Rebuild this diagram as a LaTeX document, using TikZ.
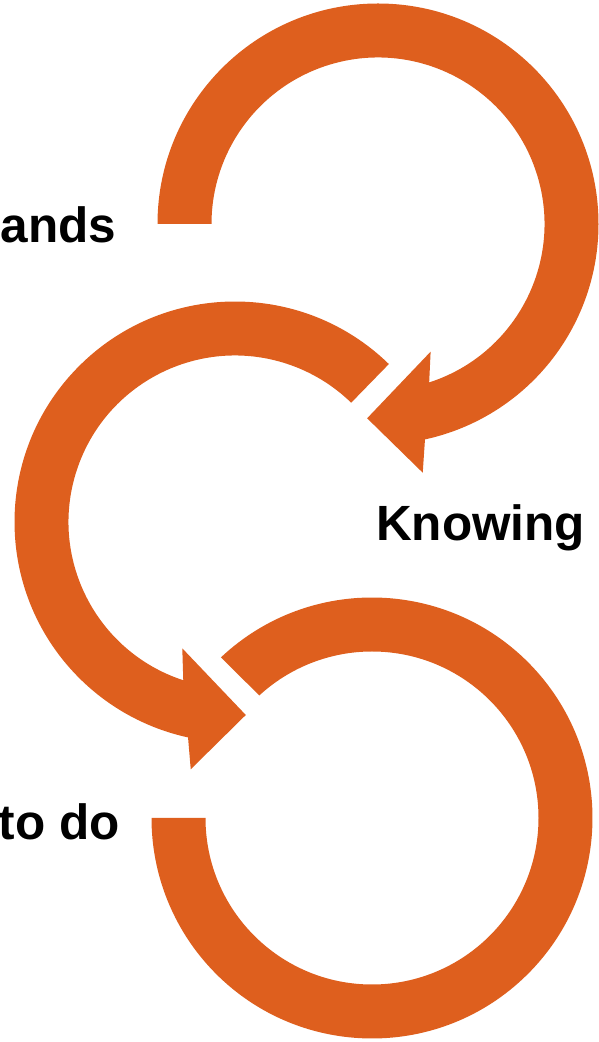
\documentclass[tikz,border=0pt]{standalone}
\usepackage{fontspec}
\setmainfont{Liberation Sans}
\definecolor{arroworange}{RGB}{222,95,30}

\begin{document}
\begin{tikzpicture}[x=1pt,y=1pt,
    word/.style={inner sep=0pt,font=\fontsize{49.5}{59}\selectfont\bfseries}]
  \useasboundingbox (0,0) rectangle (598,1042);

  \coordinate (top) at (378,818);
  \coordinate (mid) at (235,520);
  \coordinate (bot) at (372,224);

  \fill[arroworange] ([shift={(180:220.5)}]top) arc[start angle=180,end angle=-77.7,radius=220.5]
    -- ([shift={(-79.8:252.7)}]top) -- ([shift={(-93.2:194.6)}]top) -- ([shift={(-67.6:138.1)}]top)
    -- ([shift={(-72.1:166.5)}]top) arc[start angle=-72.1,end angle=180,radius=166.5] -- cycle;

  \fill[arroworange] ([shift={(45.75:220.5)}]mid) arc[start angle=45.75,end angle=257.7,radius=220.5]
    -- ([shift={(259.85:251.2)}]mid) -- ([shift={(273.2:193.3)}]mid) -- ([shift={(247.35:136.9)}]mid)
    -- ([shift={(251.9:166.5)}]mid) arc[start angle=251.9,end angle=45.75,radius=166.5] -- cycle;

  \fill[arroworange] ([shift={(133.25:220.5)}]bot) arc[start angle=133.25,end angle=-180,radius=220.5]
    -- ([shift={(180:166.5)}]bot) arc[start angle=-180,end angle=132.6,radius=166.5] -- cycle;

  \node[word,anchor=base east] (ands) at (116.5,799) {ands};
  \node[word,anchor=base west] (knowing) at (376,501) {Knowing};
  \node[word,anchor=base east] (todo) at (120,202) {to do};
\end{tikzpicture}
\end{document}
